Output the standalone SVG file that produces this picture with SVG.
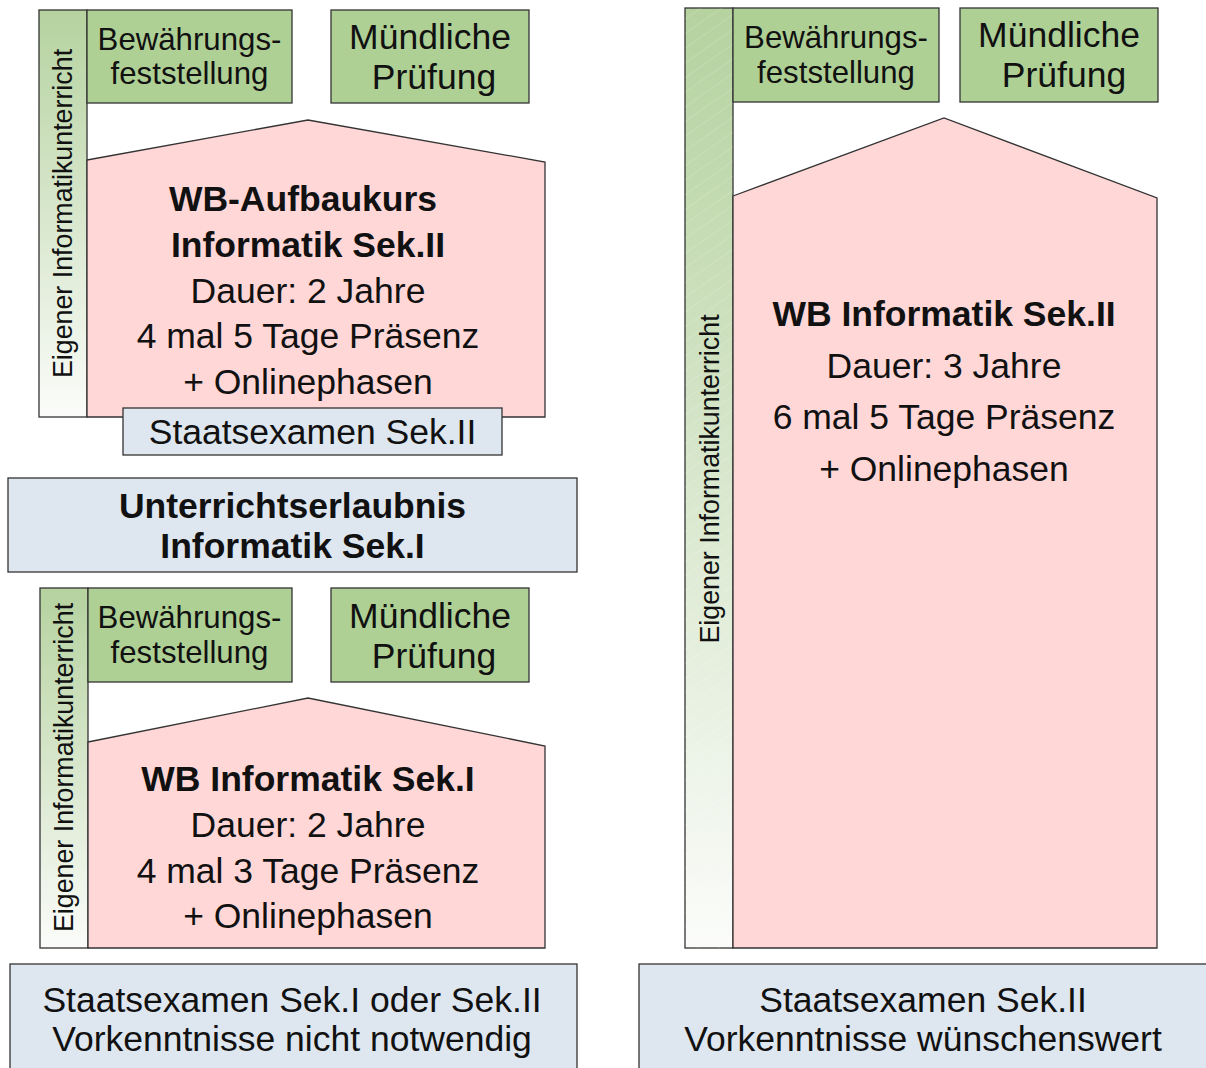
<svg xmlns="http://www.w3.org/2000/svg" width="1206" height="1068" viewBox="0 0 1206 1068">
<defs>
<linearGradient id="gbar" x1="0" y1="0" x2="0" y2="1">
<stop offset="0" stop-color="#b5d29f"/>
<stop offset="1" stop-color="#fbfcfa"/>
</linearGradient>
<pattern id="hatch" width="12" height="12" patternUnits="userSpaceOnUse" patternTransform="rotate(-35)">
<line x1="0" y1="0" x2="12" y2="0" stroke="#ffffff" stroke-width="0.6" stroke-opacity="0.5"/>
</pattern>
<style>
.box{stroke:#333;stroke-width:1.3}
.green{fill:#afd095}
.pink{fill:#ffd7d7}
.blue{fill:#dee6ef}
.bar{fill:url(#gbar)}
text{font-family:"Liberation Sans",Arial,sans-serif;fill:#111;text-anchor:middle}
.b{font-weight:bold}
.s31{font-size:31.2px}
.s35{font-size:35.5px}
.v{font-size:26.8px}
</style>
</defs>
<g id="connectors"/>

<!-- Left top column -->
<g id="bar-top-left">
<rect class="box bar" x="39" y="10" width="48" height="407"/>
<text class="v" transform="translate(72,213.5) rotate(-90)">Eigener Informatikunterricht</text>
</g>
<g id="bew-top-left">
<rect class="box green" x="87" y="10" width="205" height="93"/>
<text class="s31" x="189.5" y="50">Bewährungs-</text>
<text class="s31" x="189.5" y="84">feststellung</text>
</g>
<g id="muend-top-left">
<rect class="box green" x="331" y="10" width="198" height="93"/>
<text class="s35" x="430" y="49">Mündliche</text>
<text class="s35" x="434" y="89">Prüfung</text>
</g>
<g id="wb-aufbau">
<polygon class="box pink" points="87,160 308,120 545,162 545,417 87,417"/>
<text class="s35 b" x="303" y="211">WB-Aufbaukurs</text>
<text class="s35 b" x="308" y="257">Informatik Sek.II</text>
<text class="s35" x="308" y="303">Dauer: 2 Jahre</text>
<text class="s35" x="308" y="348">4 mal 5 Tage Präsenz</text>
<text class="s35" x="308" y="394">+ Onlinephasen</text>
</g>
<g id="staats-sek2-small">
<rect class="box blue" x="123" y="408" width="379" height="47"/>
<text class="s35" x="312.5" y="444">Staatsexamen Sek.II</text>
</g>
<g id="unterrichtserlaubnis">
<rect class="box blue" x="8" y="478" width="569" height="94"/>
<text class="s35 b" x="292.5" y="518">Unterrichtserlaubnis</text>
<text class="s35 b" x="292.5" y="558">Informatik Sek.I</text>
</g>

<!-- Left bottom column -->
<g id="bar-bottom-left">
<rect class="box bar" x="40" y="588" width="48" height="360"/>
<text class="v" transform="translate(73,767.5) rotate(-90)">Eigener Informatikunterricht</text>
</g>
<g id="bew-bottom-left">
<rect class="box green" x="88" y="588" width="204" height="94"/>
<text class="s31" x="189.5" y="628">Bewährungs-</text>
<text class="s31" x="189.5" y="663">feststellung</text>
</g>
<g id="muend-bottom-left">
<rect class="box green" x="331" y="588" width="198" height="94"/>
<text class="s35" x="430" y="628">Mündliche</text>
<text class="s35" x="434" y="668">Prüfung</text>
</g>
<g id="wb-sek1">
<polygon class="box pink" points="88,742 308,698 545,746 545,948 88,948"/>
<text class="s35 b" x="308" y="791">WB Informatik Sek.I</text>
<text class="s35" x="308" y="837">Dauer: 2 Jahre</text>
<text class="s35" x="308" y="883">4 mal 3 Tage Präsenz</text>
<text class="s35" x="308" y="928">+ Onlinephasen</text>
</g>
<g id="base-left">
<rect class="box blue" x="10" y="964" width="567" height="110"/>
<text class="s35" x="292" y="1012">Staatsexamen Sek.I oder Sek.II</text>
<text class="s35" x="292" y="1051">Vorkenntnisse nicht notwendig</text>
</g>

<!-- Right column -->
<g id="bar-right">
<rect class="box bar" x="685" y="8" width="48" height="940"/>
<rect x="685" y="8" width="48" height="940" fill="url(#hatch)"/>
<text class="v" transform="translate(719,479) rotate(-90)">Eigener Informatikunterricht</text>
</g>
<g id="bew-right">
<rect class="box green" x="733" y="8" width="206" height="94"/>
<text class="s31" x="836" y="48">Bewährungs-</text>
<text class="s31" x="836" y="83">feststellung</text>
</g>
<g id="muend-right">
<rect class="box green" x="960" y="8" width="198" height="94"/>
<text class="s35" x="1059" y="47">Mündliche</text>
<text class="s35" x="1064" y="87">Prüfung</text>
</g>
<g id="wb-sek2">
<polygon class="box pink" points="733,196 944,118 1157,198 1157,948 733,948"/>
<text class="s35 b" x="944" y="326">WB Informatik Sek.II</text>
<text class="s35" x="944" y="378">Dauer: 3 Jahre</text>
<text class="s35" x="944" y="429">6 mal 5 Tage Präsenz</text>
<text class="s35" x="944" y="481">+ Onlinephasen</text>
</g>
<g id="base-right">
<rect class="box blue" x="639" y="964" width="575" height="110"/>
<text class="s35" x="923" y="1012">Staatsexamen Sek.II</text>
<text class="s35" x="923" y="1051">Vorkenntnisse wünschenswert</text>
</g>
</svg>
